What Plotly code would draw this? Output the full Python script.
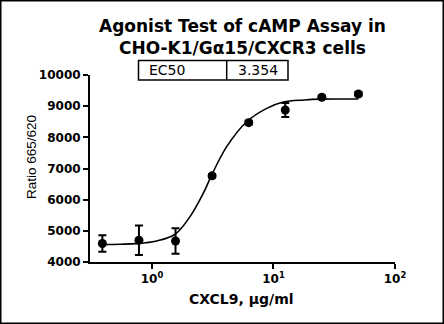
import plotly.graph_objects as go

# ---- data ----
conc = [0.390625, 0.78125, 1.5625, 3.125, 6.25, 12.5, 25, 50]
ratio = [4592, 4698, 4675, 6765, 8470, 8878, 9286, 9392]
ratio_err = [265, 470, 410, 60, 60, 225, 60, 60]

fit_conc = [0.39, 0.55, 0.75, 1.09, 1.55, 2.05, 2.64, 3.10, 4.12, 6.02, 8.79, 12.05, 18.0, 24.1, 35.0, 50.0]
fit_val = [4560, 4570, 4590, 4675, 4890, 5447, 6200, 6790, 7700, 8500, 8930, 9135, 9200, 9225, 9230, 9230]

x_tickvals = [1, 10, 100]
x_ticktext = ["10<sup>0</sup>", "10<sup>1</sup>", "10<sup>2</sup>"]
y_tickvals = [4000, 5000, 6000, 7000, 8000, 9000, 10000]

table_labels = ["EC50", "3.354"]

title_lines = ["Agonist Test of cAMP Assay in", "CHO-K1/G\u03b115/CXCR3 cells"]
x_title = "CXCL9, \u03bcg/ml"
y_title = "Ratio 665/620"

# ---- layout geometry (pixels) ----
W, H = 444, 324
ML, MR, MT, MB = 90, 49, 75, 62
PW, PH = W - ML - MR, H - MT - MB


def px(xp):
    return (xp - ML) / PW


def py(yp):
    return (H - MB - yp) / PH


fig = go.Figure()

fig.add_trace(go.Scatter(
    x=fit_conc, y=fit_val, mode="lines", line=dict(color="black", width=1.6, shape="spline"),
    hoverinfo="skip", showlegend=False))

fig.add_trace(go.Scatter(
    x=conc, y=ratio, mode="markers",
    marker=dict(color="black", size=9),
    error_y=dict(type="data", array=ratio_err, color="black", thickness=2, width=4),
    showlegend=False))

axis_common = dict(showgrid=False, zeroline=False, showline=True, linecolor="black", linewidth=2,
                   ticks="outside", ticklen=5, tickwidth=2, tickcolor="black",
                   tickfont=dict(family="DejaVu Sans", size=12, color="black", weight="bold"))

fig.update_xaxes(type="log", range=[-0.51, 2.0], tickmode="array", tickvals=x_tickvals,
                 ticktext=x_ticktext, **axis_common)
fig.update_yaxes(range=[4000, 10000], tickmode="array", tickvals=y_tickvals, tickformat="d",
                 **axis_common)

shapes = [
    # outer border of the image
    dict(type="rect", xref="paper", yref="paper", x0=px(0.75), x1=px(W - 0.75), y0=py(H - 0.75), y1=py(0.75),
         line=dict(color="black", width=1.5)),
    # table box
    dict(type="rect", xref="paper", yref="paper", x0=px(138.5), x1=px(288), y0=py(80), y1=py(60.5),
         line=dict(color="black", width=1.5)),
    dict(type="line", xref="paper", yref="paper", x0=px(226.7), x1=px(226.7), y0=py(80), y1=py(60.5),
         line=dict(color="black", width=1.5)),
]

annotations = [
    dict(text="<br>".join(title_lines), xref="paper", yref="paper", x=px(242), y=py(36.5),
         xanchor="center", yanchor="middle", showarrow=False,
         font=dict(family="DejaVu Sans", size=17, color="black", weight="bold")),
    dict(text=table_labels[0], xref="paper", yref="paper", x=px(147), y=py(70.5),
         xanchor="left", yanchor="middle", showarrow=False,
         font=dict(family="DejaVu Sans", size=14, color="black")),
    dict(text=table_labels[1], xref="paper", yref="paper", x=px(236), y=py(70.5),
         xanchor="left", yanchor="middle", showarrow=False,
         font=dict(family="DejaVu Sans", size=14, color="black")),
    dict(text=x_title, xref="paper", yref="paper", x=px(241), y=py(299),
         xanchor="center", yanchor="middle", showarrow=False,
         font=dict(family="DejaVu Sans", size=14, color="black", weight="bold")),
    dict(text=y_title, xref="paper", yref="paper", x=px(31), y=py(157), textangle=-90,
         xanchor="center", yanchor="middle", showarrow=False,
         font=dict(family="Liberation Sans", size=13.5, color="black")),
]

fig.update_layout(width=W, height=H, margin=dict(l=ML, r=MR, t=MT, b=MB, pad=0),
                  paper_bgcolor="white", plot_bgcolor="white",
                  shapes=shapes, annotations=annotations, showlegend=False)

fig.write_html("out.html")
